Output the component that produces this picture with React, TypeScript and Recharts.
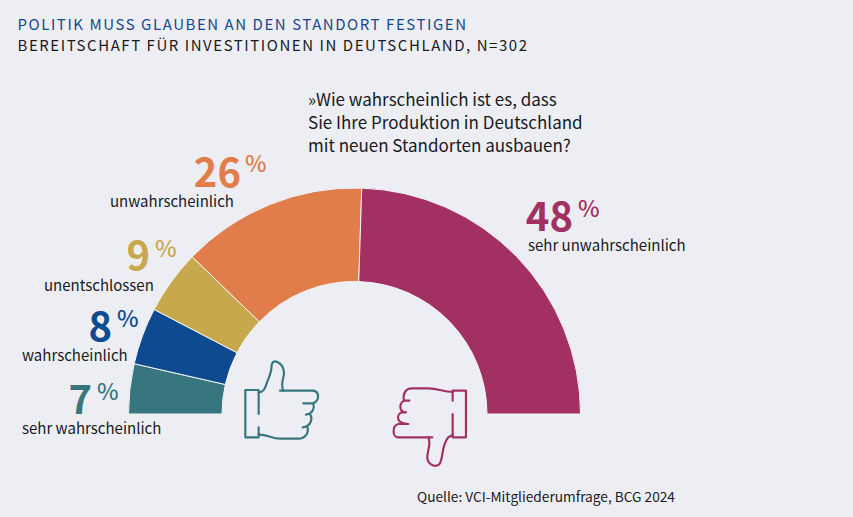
import React from "react";
import { PieChart, Pie, Cell } from "recharts";

const categories = ["sehr wahrscheinlich", "wahrscheinlich", "unentschlossen", "unwahrscheinlich", "sehr unwahrscheinlich"];
const values = [7, 8, 9, 26, 48];
const titleLine = "POLITIK MUSS GLAUBEN AN DEN STANDORT FESTIGEN";
const subtitleLine = "BEREITSCHAFT FÜR INVESTITIONEN IN DEUTSCHLAND, N=302";
const questionLines = ["»Wie wahrscheinlich ist es, dass", "Sie Ihre Produktion in Deutschland", "mit neuen Standorten ausbauen?"];
const sourceLine = "Quelle: VCI-Mitgliederumfrage, BCG 2024";

const colors = ["#38767F", "#0D4A8F", "#C8A84D", "#E07D4A", "#A23063"];
const FONT = '"Noto Sans CJK SC", "Noto Sans", sans-serif';
const BG = "#ECEEF4";
const INK = "#1A1A1E";

// layout of the annotations, index-aligned with categories
const numX = [92, 112, 150, 241, 573];
const numY = [414, 341, 270, 187, 231];
const pctX = [97, 117, 155, 245, 578];
const pctY = [400, 327, 257, 172, 217];
const catX = [22, 22, 44, 110, 528];
const catY = [434, 361, 291, 207, 251];

const tableData = categories.map((name, i) => ({ name, value: values[i] }));

const thumbUp = [
  "M46 120H86V192M86 232V262H46V120",
  "M86 128C100 125 105 118 110 100C115 85 125 70 125 45C127 33 135 33 142 36C155 42 162 55 162 70C162 85 150 100 160 122",
  "M150 122H250C268 125 270 150 250 160H220",
  "M250 160C254 172 250 190 228 194",
  "M240 192C248 205 245 228 218 232",
  "M232 230C238 250 225 266 205 266H150C125 266 115 254 86 254",
];
const thumbDown = [
  "M668 152V122H708V262H668V192",
  "M668 126C640 126 625 115 595 115H545C525 115 518 135 522 152H538",
  "M522 152C508 160 505 185 528 187H515C498 195 498 222 535 222H505C485 228 487 262 505 262H607",
  "M595 262C605 285 590 305 592 325C595 345 620 355 630 340C640 320 635 285 655 262L668 255",
];

export default function App() {
  return (
    <div style={{ position: "fixed", left: 0, top: 0, width: 853, height: 517, background: BG }}>
      <PieChart width={853} height={517} margin={{ top: 0, right: 0, bottom: 0, left: 0 }}>
        <Pie
          data={tableData}
          dataKey="value"
          nameKey="name"
          cx={354.5}
          cy={414}
          innerRadius={132.5}
          outerRadius={226}
          startAngle={180}
          endAngle={0}
          stroke="#F4F4F6"
          strokeWidth={1}
          isAnimationActive={false}
        >
          {tableData.map((d, i) => (
            <Cell key={d.name} fill={colors[i]} />
          ))}
        </Pie>
        <g fontFamily={FONT}>
          <text x={17.5} y={30} fontSize={15} letterSpacing={1.55} fill="#17498A">{titleLine}</text>
          <text x={17.5} y={50.5} fontSize={15} letterSpacing={1.55} fill={INK}>{subtitleLine}</text>
          {questionLines.map((l, i) => (
            <text key={l} x={308} y={105.5 + i * 23.2} fontSize={17} fill={INK}>{l}</text>
          ))}
          {tableData.map((d, i) => (
            <g key={d.name}>
              <text x={numX[i]} y={numY[i]} textAnchor="end" fontSize={40} fontWeight={700} fill={colors[i]}>{d.value}</text>
              <text x={pctX[i]} y={pctY[i]} fontSize={23} fontWeight={500} fill={colors[i]}>%</text>
              <text x={catX[i]} y={catY[i]} fontSize={15} fill={INK}>{d.name}</text>
            </g>
          ))}
          <text x={417} y={502} fontSize={13.7} fill={INK}>{sourceLine}</text>
        </g>
        <g transform="translate(230 350) scale(0.3333)" fill="none" strokeWidth={6.5} strokeLinecap="round" strokeLinejoin="round">
          {thumbUp.map((p) => (<path key={p} d={p} stroke={colors[0]} />))}
          {thumbDown.map((p) => (<path key={p} d={p} stroke={colors[4]} />))}
        </g>
      </PieChart>
    </div>
  );
}
